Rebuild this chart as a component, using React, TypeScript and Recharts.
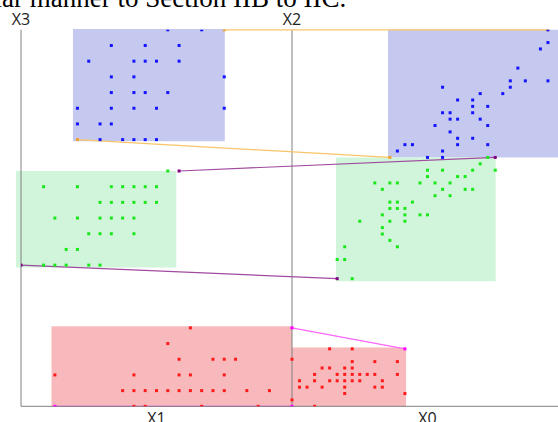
import { ScatterChart, Scatter, XAxis, YAxis, ReferenceArea, ReferenceLine } from 'recharts';

// axis extents (left plane: X1 vs X3, right plane: X0 vs X2)
const X1_MAX = 24;
const X3_MAX = 24;
const X0_MAX = 36;
const X2_MAX = 59;

// cluster points, [x1, x3] on the left plane
const BLUE_X1X3: [number, number][] = [
  [13, 24], [16, 24],
  [8, 23], [11, 23], [14, 23],
  [6, 22], [10, 22], [11, 22], [12, 22], [14, 22],
  [8, 21], [10, 21], [18, 21],
  [8, 20], [10, 20], [11, 20], [13, 20],
  [5, 19], [8, 19], [10, 19], [12, 19], [18, 19],
  [5, 18], [7, 18], [8, 18],
  [7, 17], [9, 17], [10, 17], [11, 17], [12, 17],
];
const GREEN_X1X3: [number, number][] = [
  [13, 15],
  [2, 14], [5, 14], [8, 14], [9, 14], [10, 14], [11, 14], [12, 14],
  [7, 13], [8, 13], [9, 13], [10, 13], [11, 13], [12, 13],
  [3, 12], [5, 12], [7, 12], [8, 12], [9, 12], [10, 12],
  [6, 11], [7, 11], [8, 11], [10, 11],
  [4, 10], [5, 10],
  [2, 9], [3, 9], [4, 9], [6, 9], [7, 9],
];
const RED_X1X3: [number, number][] = [
  [15, 5],
  [13, 4],
  [14, 3], [17, 3], [18, 3], [19, 3], [24, 3],
  [3, 2], [10, 2], [14, 2], [15, 2], [18, 2],
  [9, 1], [10, 1], [11, 1], [12, 1], [13, 1], [14, 1], [15, 1], [16, 1], [17, 1], [18, 1], [20, 1], [22, 1],
  [10, 0], [11, 0], [16, 0], [21, 0],
];

// cluster points, [x0, x2] on the right plane
const BLUE_X0X2: [number, number][] = [
  [34, 59], [34, 57], [33, 56], [30, 53],
  [29, 51], [31, 51], [34, 51],
  [20, 50], [29, 50],
  [25, 49], [28, 49],
  [22, 48], [24, 48],
  [24, 47], [26, 47],
  [20, 46], [21, 46], [24, 46],
  [21, 45], [22, 45], [25, 45],
  [19, 44], [26, 44],
  [21, 43],
  [22, 42], [24, 42],
  [15, 41], [16, 41], [22, 41], [26, 41],
  [14, 40], [20, 40],
  [18, 39], [20, 39],
];
const GREEN_X0X2: [number, number][] = [
  [26, 39], [25, 38],
  [18, 37], [20, 37], [24, 37], [27, 37],
  [18, 36], [22, 36], [23, 36],
  [11, 35], [13, 35], [14, 35], [17, 35], [19, 35], [21, 35],
  [12, 34], [20, 34], [23, 34], [24, 34],
  [19, 33], [21, 33],
  [13, 32], [14, 32], [16, 32],
  [13, 31], [14, 31], [15, 31],
  [12, 30], [15, 30], [17, 30], [18, 30],
  [9, 29], [13, 29], [15, 29],
  [12, 28], [12, 27], [13, 26],
  [7, 25], [14, 25],
  [6, 23], [7, 23],
  [8, 20],
];
const RED_X0X2: [number, number][] = [
  [5, 9], [8, 9],
  [8, 7], [11, 7], [14, 7],
  [4, 6], [5, 6], [7, 6], [8, 6],
  [3, 5], [6, 5], [7, 5], [8, 5], [9, 5], [10, 5], [11, 5], [14, 5],
  [1, 4], [3, 4], [5, 4], [6, 4], [7, 4], [8, 4], [9, 4], [12, 4],
  [1, 3], [2, 3], [4, 3], [7, 3], [11, 3], [12, 3],
  [7, 2], [15, 2],
  [0, 1],
  [3, 0],
];

// bounding corners joined across the planes: [min corner, max corner]
const BLUE_CORNERS_L: [number, number][] = [[5, 17], [18, 24]];
const BLUE_CORNERS_R: [number, number][] = [[13, 39], [34, 59]];
const GREEN_CORNERS_L: [number, number][] = [[0, 9], [14, 15]];
const GREEN_CORNERS_R: [number, number][] = [[6, 20], [27, 39]];
const RED_CORNERS_L: [number, number][] = [[3, 0], [24, 5]];
const RED_CORNERS_R: [number, number][] = [[0, 0], [15, 9]];

// shaded boxes [xmin, xmax, ymin, ymax]
const BLUE_BOX_L = [4.6, 18.05, 16.9, 24.05];
const BLUE_BOX_R = [12.75, 36, 39, 59];
const GREEN_BOX_L = [-0.45, 13.75, 8.85, 15];
const GREEN_BOX_R = [5.85, 27.05, 19.6, 39];
const RED_BOX_L = [2.7, 24, -0.05, 5.1];
const RED_BOX_R = [0, 15.15, -0.05, 9.2];

const AXIS_LABELS = ['X1', 'X0'];

const COLORS = {
  blue: '#1414ff',
  green: '#18e818',
  red: '#ff1a1a',
  blueFill: '#c5c9f0',
  greenFill: '#d0f5da',
  redFill: '#f8b9bc',
  orange: '#f9c468',
  orangeDot: '#eea030',
  purple: '#a04aa0',
  purpleDot: '#800080',
  magenta: '#ff66ff',
  magentaDot: '#ff00ff',
  axis: '#808080',
};

const FONT = '"Open Sans", sans-serif';

const left = (p: [number, number]) => ({ h: p[0] / X1_MAX, v: p[1] / X3_MAX });
const right = (p: [number, number]) => ({ h: 1 + p[0] / X0_MAX, v: p[1] / X2_MAX });

const square = (color: string) => (props: any) => (
  <rect x={props.cx - 1.5} y={props.cy - 1.5} width={3} height={3} fill={color} />
);

const boxL = (b: number[], fill: string) => (
  <ReferenceArea
    x1={b[0] / X1_MAX}
    x2={b[1] / X1_MAX}
    y1={b[2] / X3_MAX}
    y2={b[3] / X3_MAX}
    fill={fill}
    fillOpacity={1}
    stroke="none"
    ifOverflow="visible"
  />
);
const boxR = (b: number[], fill: string) => (
  <ReferenceArea
    x1={1 + b[0] / X0_MAX}
    x2={1 + b[1] / X0_MAX}
    y1={b[2] / X2_MAX}
    y2={b[3] / X2_MAX}
    fill={fill}
    fillOpacity={1}
    stroke="none"
    ifOverflow="visible"
  />
);
const link = (a: [number, number], b: [number, number], color: string) => {
  const p = left(a);
  const q = right(b);
  return (
    <ReferenceLine
      segment={[{ x: p.h, y: p.v }, { x: q.h, y: q.v }]}
      stroke={color}
      strokeWidth={1.2}
      ifOverflow="visible"
    />
  );
};

export default function App() {
  const corners = (l: [number, number][], r: [number, number][]) => [...l.map(left), ...r.map(right)];
  return (
    <div style={{ position: 'absolute', left: 0, top: 0, width: 558, height: 422, overflow: 'hidden', background: '#fff' }}>
      <div
        style={{
          position: 'absolute',
          left: -13,
          top: -15,
          fontFamily: '"Liberation Serif", serif',
          fontSize: 27,
          lineHeight: '27px',
          whiteSpace: 'nowrap',
          color: '#000',
        }}
      >
        ilar manner to Section IIB to IIC.
      </div>
      <ScatterChart width={563} height={422} margin={{ top: 29.8, right: 0, bottom: 0, left: 21 }}>
        <XAxis
          type="number"
          dataKey="h"
          domain={[0, 2]}
          ticks={[0.5, 1.5]}
          tickFormatter={(v: number) => AXIS_LABELS[v < 1 ? 0 : 1]}
          tickLine={false}
          tickSize={6}
          tickMargin={0}
          axisLine={{ stroke: COLORS.axis }}
          tick={{ fill: '#222', fontSize: 16, fontFamily: FONT }}
          height={15.7}
          allowDataOverflow
        />
        <YAxis type="number" dataKey="v" domain={[0, 1]} hide allowDataOverflow />

        {boxL(BLUE_BOX_L, COLORS.blueFill)}
        {boxR(BLUE_BOX_R, COLORS.blueFill)}
        {boxL(GREEN_BOX_L, COLORS.greenFill)}
        {boxR(GREEN_BOX_R, COLORS.greenFill)}
        {boxL(RED_BOX_L, COLORS.redFill)}
        {boxR(RED_BOX_R, COLORS.redFill)}

        <ReferenceLine
          x={0}
          stroke={COLORS.axis}
          label={{ value: 'X3', position: 'top', fill: '#222', fontSize: 16, fontFamily: FONT }}
        />
        <ReferenceLine
          x={1}
          stroke={COLORS.axis}
          label={{ value: 'X2', position: 'top', fill: '#222', fontSize: 16, fontFamily: FONT }}
        />

        {link(BLUE_CORNERS_L[0], BLUE_CORNERS_R[0], COLORS.orange)}
        {link(BLUE_CORNERS_L[1], BLUE_CORNERS_R[1], COLORS.orange)}
        {link(GREEN_CORNERS_L[0], GREEN_CORNERS_R[0], COLORS.purple)}
        {link(GREEN_CORNERS_L[1], GREEN_CORNERS_R[1], COLORS.purple)}
        {link(RED_CORNERS_L[0], RED_CORNERS_R[0], COLORS.magenta)}
        {link(RED_CORNERS_L[1], RED_CORNERS_R[1], COLORS.magenta)}

        <Scatter data={corners(BLUE_CORNERS_L, BLUE_CORNERS_R)} shape={square(COLORS.orangeDot)} isAnimationActive={false} />
        <Scatter data={corners(GREEN_CORNERS_L, GREEN_CORNERS_R)} shape={square(COLORS.purpleDot)} isAnimationActive={false} />
        <Scatter data={corners(RED_CORNERS_L, RED_CORNERS_R)} shape={square(COLORS.magentaDot)} isAnimationActive={false} />

        <Scatter data={BLUE_X1X3.map(left)} shape={square(COLORS.blue)} isAnimationActive={false} />
        <Scatter data={BLUE_X0X2.map(right)} shape={square(COLORS.blue)} isAnimationActive={false} />
        <Scatter data={GREEN_X1X3.map(left)} shape={square(COLORS.green)} isAnimationActive={false} />
        <Scatter data={GREEN_X0X2.map(right)} shape={square(COLORS.green)} isAnimationActive={false} />
        <Scatter data={RED_X1X3.map(left)} shape={square(COLORS.red)} isAnimationActive={false} />
        <Scatter data={RED_X0X2.map(right)} shape={square(COLORS.red)} isAnimationActive={false} />
      </ScatterChart>
    </div>
  );
}
